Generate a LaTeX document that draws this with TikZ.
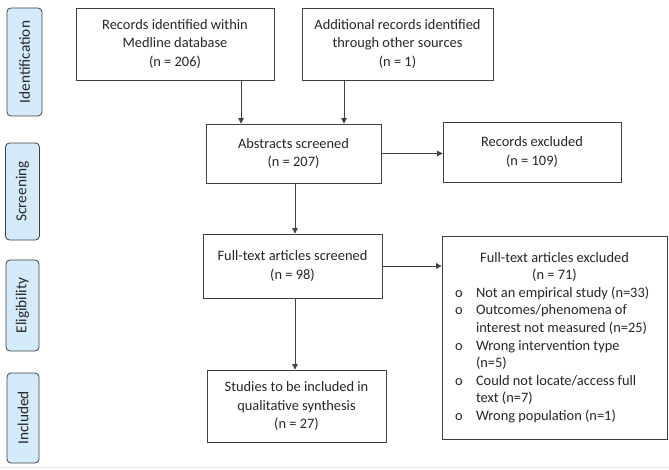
\documentclass[tikz,border=0pt]{standalone}
\usepackage{fontspec}
\setmainfont{Carlito}
\usetikzlibrary{arrows.meta}
\definecolor{stagefill}{HTML}{D4EBFB}
\definecolor{linegray}{HTML}{404040}
\definecolor{textgray}{HTML}{262626}
\definecolor{faint}{HTML}{E6E6E6}
\newcommand{\bitem}[1]{\par\hangindent=26pt\hangafter=1\noindent\makebox[26pt][l]{\hspace{5pt}o}#1}
\tikzset{
  flowbox/.style={draw=linegray, line width=0.8pt, fill=white, text=textgray, align=center,
    inner sep=2pt, font=\fontsize{14.4pt}{18.3pt}\selectfont},
  stagebox/.style={draw=linegray, line width=0.8pt, fill=stagefill, rounded corners=4pt,
    text=textgray, font=\fontsize{15pt}{18pt}\selectfont},
  stagetext/.style={rotate=90, text=textgray, font=\fontsize{15.3pt}{18pt}\selectfont},
  arr/.style={draw=linegray, line width=0.8pt, -{Triangle[width=5.5pt,length=5.5pt]}}
}
\begin{document}
\begin{tikzpicture}[x=1pt,y=1pt]
\useasboundingbox (0,0) rectangle (669,-470);
\fill[white] (0,0) rectangle (669,-470);
\draw[faint, line width=1pt] (0,-467) -- (669,-467);

% stage labels
\node[stagebox, minimum width=35pt, minimum height=108pt] (sid) at (24.5,-62) {};
\node[stagetext] (tid) at (sid.center) {Identification};
\node[stagebox, minimum width=34pt, minimum height=97pt] (sscr) at (22.5,-191.5) {};
\node[stagetext] (tscr) at (sscr.center) {Screening};
\node[stagebox, minimum width=33pt, minimum height=91pt] (seli) at (22.5,-305.5) {};
\node[stagetext] (teli) at (seli.center) {Eligibility};
\node[stagebox, minimum width=32pt, minimum height=90pt] (sinc) at (23,-418) {};
\node[stagetext] (tinc) at (sinc.center) {Included};

% flow boxes
\node[flowbox, minimum width=198pt, minimum height=72pt] (rec1) at (175,-44)
  {Records identified within\\Medline database\\(n = 206)};
\node[flowbox, minimum width=191pt, minimum height=72pt] (rec2) at (397.5,-44)
  {Additional records identified\\through other sources\\(n = 1)};
\node[flowbox, minimum width=175pt, minimum height=59pt] (abs) at (293.5,-153.5)
  {Abstracts screened\\(n = 207)};
\node[flowbox, minimum width=178pt, minimum height=60pt] (rex) at (532,-152)
  {Records excluded\\(n = 109)};
\node[flowbox, minimum width=179pt, minimum height=64pt] (fts) at (292.5,-266)
  {Full-text articles screened\\(n = 98)};
\node[flowbox, minimum width=179pt, minimum height=72pt] (inc) at (296.5,-406)
  {Studies to be included in\\qualitative synthesis\\(n = 27)};
\node[flowbox, minimum width=225pt, minimum height=203pt, inner sep=8pt] (ftx) at (554.5,-337.5)
  {\parbox{209pt}{\fontsize{14.4pt}{17.6pt}\selectfont
   {\centering Full-text articles excluded\\(n = 71)\par}\raggedright
   \bitem{Not an empirical study (n=33)}
   \bitem{Outcomes/phenomena of\newline interest not measured (n=25)}
   \bitem{Wrong intervention type\newline (n=5)}
   \bitem{Could not locate/access full\newline text (n=7)}
   \bitem{Wrong population (n=1)}}};

% connectors
\draw[arr] (241,0 |- rec1.south) -- (241,0 |- abs.north);
\draw[arr] (344,0 |- rec2.south) -- (344,0 |- abs.north);
\draw[arr] (abs.east) -- (rex.west |- abs.east);
\draw[arr] (295,0 |- abs.south) -- (295,0 |- fts.north);
\draw[arr] (fts.east) -- (ftx.west |- fts.east);
\draw[arr] (295,0 |- fts.south) -- (295,0 |- inc.north);
\end{tikzpicture}
\end{document}
